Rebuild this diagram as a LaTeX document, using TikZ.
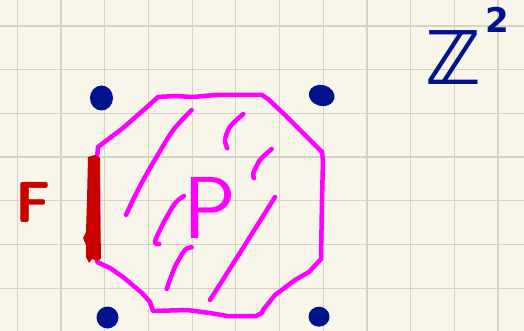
\documentclass[tikz,border=0pt]{standalone}
\usepackage{fontspec}
\newfontfamily\djsans{DejaVu Sans}
\definecolor{paper}{RGB}{248,245,234}
\definecolor{gridc}{RGB}{214,210,198}
\definecolor{pink}{RGB}{255,0,255}
\definecolor{redc}{RGB}{200,0,0}
\definecolor{bluec}{RGB}{0,18,140}
\tikzset{
  pinkline/.style={draw=pink,line width=4.5pt,line cap=round,line join=round},
  hatch/.style={pinkline},
  dotmark/.style={fill=bluec},
  gridline/.style={draw=gridc,line width=1.2pt},
  lbl/.style={inner sep=0pt,anchor=base}
}
\begin{document}
\begin{tikzpicture}[x=1pt,y=-1pt]
\useasboundingbox (0,0) rectangle (524,331);
\fill[paper] (0,0) rectangle (524,331);
% grid
\foreach \i in {0,...,11} {
  \draw[gridline] ({17.3+43.7*\i},0) -- ({17.3+43.7*\i},331);
}
\foreach \j in {0,...,6} {
  \draw[gridline] (0,{26+43.7*\j}) -- (524,{26+43.7*\j});
}
% lattice points
\fill[dotmark] (101.5,98) ellipse [x radius=11.5, y radius=12.5];
\fill[dotmark, rotate around={-15:(321.7,95.5)}] (321.7,95.5) ellipse [x radius=13, y radius=10.5];
\fill[dotmark] (107.5,317.5) ellipse [x radius=11, y radius=11];
\fill[dotmark] (319,316.7) ellipse [x radius=10.5, y radius=10];
% polygon P
\draw[pinkline] (97,262) -- (98,230) -- (98,190) -- (97,158) -- (98,147) -- (123,128) -- (147,107) -- (158,97)
  -- (175,96) -- (193,97) -- (215,95) -- (240,95) -- (262,95) -- (268,99)
  -- (285,115) -- (300,130) -- (322,152) -- (323,160) -- (322,200) -- (321,259)
  -- (309,272) -- (295,280) -- (275,295) -- (263,310) -- (262,313)
  -- (256,316) -- (227,316) -- (210,313) -- (187,310) -- (153,311)
  -- (150,302) -- (142,293) -- (123,277) -- (110,268) -- cycle;
% hatching
\draw[hatch] plot[smooth] coordinates {(191.7,110) (173.3,130) (156.7,156.7) (143.3,180) (133,200) (126,215)};
\draw[hatch] plot[smooth] coordinates {(243.3,114) (230,126.7) (225,140) (227.3,148.3)};
\draw[hatch] plot[smooth] coordinates {(271.7,149) (260,160) (253.3,173.3) (254,178.3)};
\draw[hatch] plot[smooth] coordinates {(275,197) (243,248) (210,300)};
\draw[hatch] plot[smooth] coordinates {(184,196) (175,203.3) (163.3,223.3) (155,241.7) (159.3,244)};
\draw[hatch] plot[smooth] coordinates {(191.7,247.3) (185,250) (175,266.7) (166.7,289)};
% facet F
\fill[redc] (88,157) -- (95,155) -- (100,158) -- (100,200) -- (101,258) -- (98,261) -- (92,259)
  -- (89,263) -- (86,257) -- (86,245) -- (83,238) -- (86,232) -- (87,200) -- cycle;
% labels
\node[lbl,text=redc,font=\sffamily\bfseries\fontsize{58}{58}\selectfont] (lF) at (33,222) {F};
\node[lbl,text=pink,font=\sffamily\fontsize{88}{88}\selectfont] (lP) at (210,238) {P};
\node[lbl,text=bluec,font=\djsans\bfseries\fontsize{74}{74}\selectfont] (lZ) at (453,85) {ℤ};
\node[lbl,text=bluec,font=\djsans\bfseries\fontsize{34}{34}\selectfont] (l2) at (497,33) {2};
\end{tikzpicture}
\end{document}
